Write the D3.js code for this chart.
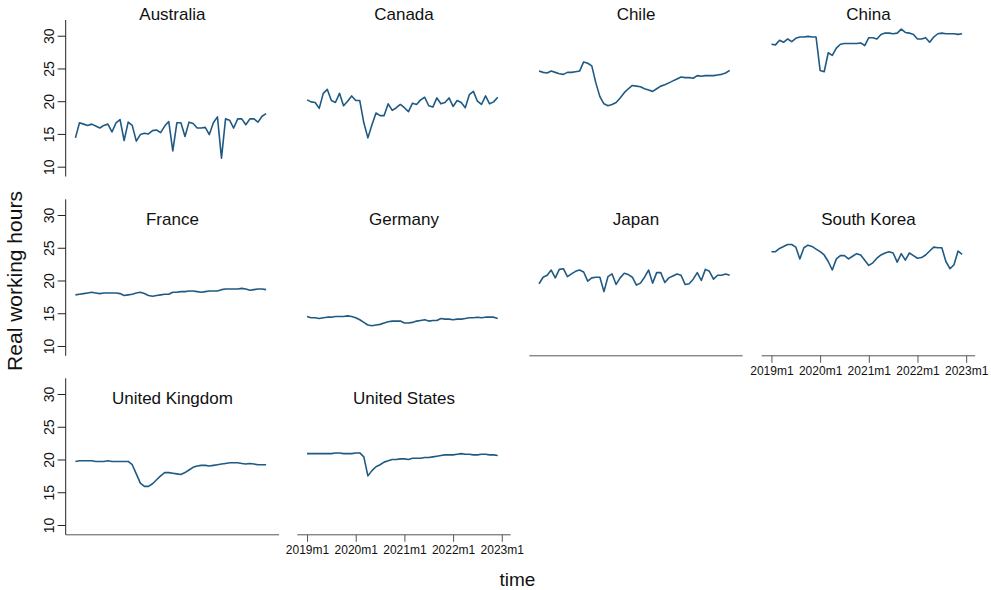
<!DOCTYPE html>
<html>
<head>
<meta charset="utf-8">
<script src="https://cdn.jsdelivr.net/npm/d3@7"></script>
<style>
  html, body { margin: 0; padding: 0; background: #fff; }
  svg { display: block; font-family: "Liberation Sans", Arial, sans-serif; }
</style>
</head>
<body>
<svg id="chart" width="991" height="590"></svg>
<script>
// Monthly real working hours, 2019m1 – 2022m12 (48 months per country)
const countries = ["Australia", "Canada", "Chile", "China", "France", "Germany",
                   "Japan", "South Korea", "United Kingdom", "United States"];

const australia = [14.4,16.7,16.5,16.3,16.5,16.2,15.9,16.3,16.5,15.3,16.7,17.2,
                   14.0,16.8,16.3,13.9,14.9,15.1,15.0,15.5,15.6,15.2,16.2,16.9,
                   12.4,16.7,16.7,14.6,16.8,16.6,15.9,15.9,16.0,14.9,16.7,17.6,
                   11.3,17.3,17.1,15.9,17.3,17.3,16.4,17.3,17.3,16.8,17.7,18.1];
const canada    = [20.2,19.9,19.8,18.9,21.2,21.8,20.1,19.8,21.2,19.3,20.0,20.8,
                   20.1,20.1,16.7,14.4,16.4,18.2,17.8,17.8,19.6,18.6,19.0,19.5,
                   19.0,18.4,19.7,19.5,20.2,20.6,19.3,19.1,20.5,19.6,19.8,20.5,
                   19.2,20.1,19.8,19.0,21.0,21.5,20.0,19.5,20.8,19.6,19.9,20.6];
const chile     = [24.6,24.4,24.3,24.6,24.4,24.2,24.1,24.4,24.4,24.5,24.6,26.0,
                   25.8,25.4,22.8,20.7,19.6,19.3,19.5,19.8,20.5,21.3,21.9,22.4,
                   22.3,22.2,21.9,21.7,21.5,21.9,22.3,22.5,22.8,23.1,23.4,23.7,
                   23.6,23.6,23.5,23.9,23.8,23.9,23.9,23.9,24.0,24.1,24.3,24.7];
const china     = [28.7,28.6,29.3,29.0,29.5,29.1,29.6,29.8,29.8,29.9,29.8,29.8,
                   24.7,24.5,27.4,27.0,28.1,28.7,28.8,28.8,28.8,28.8,28.9,28.5,
                   29.7,29.7,29.5,30.2,30.4,30.4,30.3,30.4,31.0,30.5,30.4,30.2,
                   29.5,29.5,29.7,29.0,29.8,30.3,30.4,30.3,30.3,30.3,30.2,30.3];
const france    = [17.8,17.9,18.0,18.1,18.2,18.1,18.0,18.1,18.1,18.1,18.1,18.0,
                   17.7,17.8,17.9,18.1,18.2,18.0,17.7,17.6,17.7,17.8,17.9,17.9,
                   18.2,18.2,18.3,18.3,18.4,18.4,18.3,18.2,18.3,18.4,18.4,18.4,
                   18.6,18.7,18.7,18.7,18.7,18.8,18.7,18.5,18.6,18.7,18.7,18.6];
const germany   = [14.5,14.3,14.3,14.2,14.3,14.4,14.4,14.5,14.5,14.5,14.6,14.5,
                   14.3,14.0,13.6,13.2,13.1,13.2,13.3,13.5,13.7,13.8,13.8,13.8,
                   13.5,13.5,13.6,13.8,13.9,14.0,13.8,13.9,13.9,14.2,14.1,14.1,
                   14.0,14.1,14.1,14.2,14.3,14.3,14.4,14.3,14.4,14.4,14.4,14.2];
const japan     = [19.5,20.5,20.8,21.6,20.4,21.7,21.8,20.6,21.0,21.4,21.6,21.3,
                   19.9,20.4,20.5,20.5,18.3,20.6,21.0,19.4,20.4,21.1,20.9,20.5,
                   19.3,19.6,20.5,21.6,19.6,21.2,21.2,19.7,20.4,20.7,21.0,20.8,
                   19.4,19.5,20.2,21.2,20.0,21.7,21.4,20.2,20.8,20.8,21.0,20.8];
const southKorea = [24.4,24.4,24.9,25.2,25.5,25.5,25.1,23.3,25.0,25.4,25.2,24.8,
                    24.4,23.9,22.9,21.6,23.3,23.8,23.8,23.3,23.7,24.1,23.9,23.1,
                    22.3,22.7,23.4,23.9,24.2,24.4,24.2,22.8,24.1,23.1,24.2,23.8,
                    23.4,23.5,23.9,24.5,25.1,25.0,25.0,22.9,21.8,22.4,24.5,24.0];
const unitedKingdom = [19.7,19.8,19.8,19.8,19.8,19.7,19.7,19.7,19.8,19.7,19.7,19.7,
                       19.7,19.7,19.2,17.8,16.4,15.9,15.9,16.3,16.9,17.5,18.0,18.0,
                       17.9,17.8,17.7,18.0,18.4,18.8,19.0,19.1,19.1,19.0,19.1,19.2,
                       19.3,19.4,19.5,19.5,19.5,19.4,19.3,19.4,19.3,19.2,19.2,19.2];
const unitedStates = [20.9,20.9,20.9,20.9,20.9,20.9,20.9,21.0,21.0,20.9,20.9,20.9,
                      21.0,21.0,20.4,17.5,18.3,18.9,19.2,19.6,19.8,20.0,20.0,20.1,
                      20.1,20.0,20.2,20.2,20.2,20.3,20.3,20.4,20.5,20.6,20.7,20.7,
                      20.7,20.8,20.9,20.8,20.8,20.7,20.7,20.8,20.8,20.7,20.7,20.6];

const seriesValues = [australia, canada, chile, china, france, germany,
                      japan, southKorea, unitedKingdom, unitedStates];

// Months counted from 2019m1 = 0
const xTickMonths = [0, 12, 24, 36, 48];
const xTickLabels = ["2019m1", "2020m1", "2021m1", "2022m1", "2023m1"];
const yTickValues = [10, 15, 20, 25, 30];

// ---- layout ----
const svg = d3.select("#chart");
const nCols = 4;
const colLeft = [65.7, 297.3, 529.3, 761.7];
const rowTop = [20, 199.3, 378.3];
const plotW = 213.4, plotH = 156.5;
const lineColor = "#1f5a84";

const xScaleFor = c => d3.scaleLinear().domain([-2.4, 50.2]).range([colLeft[c], colLeft[c] + plotW]);
const yScaleFor = r => d3.scaleLinear().domain([8.5, 32.4]).range([rowTop[r] + plotH, rowTop[r]]);

const nPanels = countries.length;
// bottom-most panel in each column carries the x axis
const lastRowOfCol = d3.range(nCols).map(c => {
  let r = -1;
  for (let i = 0; i < nPanels; i++) if (i % nCols === c) r = Math.floor(i / nCols);
  return r;
});

countries.forEach((name, i) => {
  const c = i % nCols, r = Math.floor(i / nCols);
  const x = xScaleFor(c), y = yScaleFor(r);
  const g = svg.append("g");

  // panel title
  const titleY = r === 0 ? rowTop[r] : rowTop[r] + 26;
  g.append("text")
    .attr("x", colLeft[c] + plotW / 2)
    .attr("y", titleY)
    .attr("text-anchor", "middle")
    .attr("font-size", 17)
    .attr("fill", "#111")
    .text(name);

  // y axis on the first column
  if (c === 0) {
    const ya = g.append("g")
      .attr("transform", `translate(${colLeft[c]},0)`)
      .call(d3.axisLeft(y).tickValues(yTickValues).tickSize(8).tickPadding(4).tickFormat(d3.format("d")));
    ya.select(".domain").attr("stroke", "#222").attr("d", `M0,${rowTop[r]}V${rowTop[r] + plotH}`);
    ya.selectAll(".tick line").attr("stroke", "#222");
    ya.selectAll(".tick text")
      .attr("font-size", 14)
      .attr("font-family", "'Liberation Sans', Arial, sans-serif")
      .attr("fill", "#111")
      .attr("text-anchor", "middle")
      .attr("x", null).attr("dy", null)
      .attr("transform", "translate(-17,0) rotate(-90)")
      .attr("dominant-baseline", "central");
  }

  // x axis on the bottom panel of each column
  if (r === lastRowOfCol[c]) {
    const labelled = (c === 1 || c === 3);
    const axisY = rowTop[r] + plotH;
    const xa = g.append("g")
      .attr("transform", `translate(0,${axisY})`)
      .call(d3.axisBottom(x).tickValues(xTickMonths)
        .tickSize(labelled ? 7 : 0).tickPadding(4)
        .tickFormat((d, k) => labelled ? xTickLabels[k] : ""));
    xa.select(".domain").attr("stroke", "#555").attr("d", `M${colLeft[c]},0H${colLeft[c] + plotW}`);
    xa.selectAll(".tick line").attr("stroke", "#555");
    xa.selectAll(".tick text")
      .attr("font-size", 12)
      .attr("font-family", "'Liberation Sans', Arial, sans-serif")
      .attr("fill", "#111");
  }

  // series line
  const line = d3.line().x((d, k) => x(k)).y(d => y(d));
  g.append("path")
    .datum(seriesValues[i])
    .attr("d", line)
    .attr("fill", "none")
    .attr("stroke", lineColor)
    .attr("stroke-width", 1.6)
    .attr("stroke-linejoin", "round");
});

// axis titles
svg.append("text")
  .attr("transform", "translate(22,281) rotate(-90)")
  .attr("text-anchor", "middle")
  .attr("font-size", 21)
  .attr("fill", "#111")
  .text("Real working hours");

svg.append("text")
  .attr("x", 517.5)
  .attr("y", 586)
  .attr("text-anchor", "middle")
  .attr("font-size", 19)
  .attr("fill", "#111")
  .text("time");
</script>
</body>
</html>
